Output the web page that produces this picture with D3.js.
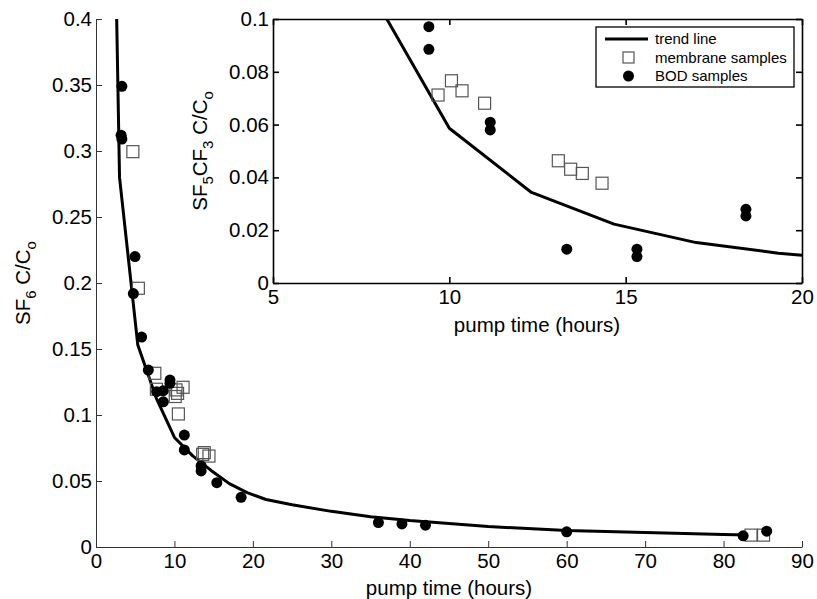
<!DOCTYPE html>
<html>
<head>
<meta charset="utf-8">
<script src="https://cdn.jsdelivr.net/npm/d3@7"></script>
<style>
body { margin: 0; background: #fff; }
svg { font-family: "Liberation Sans", Arial, Helvetica, sans-serif; }
</style>
</head>
<body>
<div id="chart"></div>
<script>
// main plot: SF6
var trendTime = [0.67, 3.0, 5.33, 7.67, 10, 12.33, 14.67, 17, 19.33, 21.67, 25, 30, 35, 40, 50, 60, 70, 80, 83];
var trendSF6 = [1.05, 0.28, 0.153, 0.113, 0.083, 0.069, 0.058, 0.048, 0.041, 0.036, 0.032, 0.027, 0.023, 0.020, 0.0155, 0.0125, 0.011, 0.0095, 0.009];

var memTime = [4.7, 5.4, 7.5, 7.7, 10.2, 10.1, 10.4, 11.1, 10.5, 13.8, 13.6, 14.4, 83.5, 85.1];
var memSF6 = [0.2995, 0.196, 0.1316, 0.1195, 0.119, 0.114, 0.1164, 0.121, 0.1008, 0.0715, 0.0702, 0.0689, 0.009, 0.009];

var bodTime = [3.3, 3.2, 3.3, 4.97, 4.76, 5.82, 6.67, 9.43, 9.43, 7.73, 8.58, 8.58, 11.26, 11.26, 13.4, 13.4, 15.4, 18.5, 36, 39, 42, 60, 82.5, 85.5];
var bodSF6 = [0.349, 0.312, 0.309, 0.22, 0.192, 0.159, 0.134, 0.1265, 0.124, 0.1177, 0.1184, 0.110, 0.0848, 0.0735, 0.0614, 0.0576, 0.0487, 0.0376, 0.0185, 0.0175, 0.0165, 0.0115, 0.0085, 0.012];

var mainXTicks = [0, 10, 20, 30, 40, 50, 60, 70, 80, 90];
var mainYTicks = [0, 0.05, 0.1, 0.15, 0.2, 0.25, 0.3, 0.35, 0.4];

// inset: SF5CF3
var trend5Time = [7.67, 10, 12.33, 14.67, 17, 19.33, 21.67];
var trendSF5 = [0.113, 0.0586, 0.0343, 0.0223, 0.0153, 0.0113, 0.0086];

var memTime5 = [9.68, 10.06, 10.36, 11.0, 13.09, 13.44, 13.77, 14.33];
var memSF5 = [0.0712, 0.0766, 0.0728, 0.0681, 0.0463, 0.0431, 0.0415, 0.0378];

var bodTime5 = [9.42, 9.42, 11.16, 11.16, 13.33, 15.32, 15.32, 18.41, 18.41];
var bodSF5 = [0.0971, 0.0885, 0.0609, 0.058, 0.0128, 0.0128, 0.0100, 0.0279, 0.0254];

var insetXTicks = [5, 10, 15, 20];
var insetYTicks = [0, 0.02, 0.04, 0.06, 0.08, 0.1];

var legendLabels = ["trend line", "membrane samples", "BOD samples"];

var width = 817, height = 599,
	fontSize = 20.5;

var svg = d3.select("#chart").append("svg")
	.attr("width", width)
	.attr("height", height);

function fmt(d) { return String(+d.toFixed(3)); }

function pairs(xs, ys) {
	return xs.map(function(x, i) { return [x, ys[i]]; });
}

// draw scatter + line into a group using given scales
function drawSeries(g, x, y, tT, tV, mT, mV, bT, bV, clipId) {
	var line = d3.line()
		.x(function(d) { return x(d[0]); })
		.y(function(d) { return y(d[1]); });

	g.append("path")
		.datum(pairs(tT, tV))
		.attr("clip-path", "url(#" + clipId + ")")
		.attr("fill", "none")
		.attr("stroke", "#000")
		.attr("stroke-width", 3)
		.attr("stroke-linejoin", "round")
		.attr("d", line);

	g.selectAll("rect.mem")
		.data(pairs(mT, mV))
		.enter().append("rect")
		.attr("class", "mem")
		.attr("x", function(d) { return x(d[0]) - 6; })
		.attr("y", function(d) { return y(d[1]) - 6; })
		.attr("width", 12)
		.attr("height", 12)
		.attr("fill", "none")
		.attr("stroke", "#555")
		.attr("stroke-width", 1.2);

	g.selectAll("circle.bod")
		.data(pairs(bT, bV))
		.enter().append("circle")
		.attr("class", "bod")
		.attr("cx", function(d) { return x(d[0]); })
		.attr("cy", function(d) { return y(d[1]); })
		.attr("r", 5.5)
		.attr("fill", "#000");
}

function styleAxis(g, color, w) {
	g.select(".domain").attr("stroke", color).attr("stroke-width", w);
	g.selectAll(".tick line").attr("stroke", color).attr("stroke-width", w);
	g.selectAll(".tick text").attr("fill", "#000").attr("font-size", fontSize)
		.attr("font-family", "Liberation Sans, Arial, sans-serif");
}

// subscripted label text
function subLabel(t, parts) {
	parts.forEach(function(p) {
		var ts = t.append("tspan").text(p[0]);
		if (p[1] == "sub") ts.attr("font-size", 15).attr("dy", 6);
		if (p[1] == "up") ts.attr("dy", -6);
	});
}

//Main axes
var xMain = d3.scaleLinear().domain([0, 90]).range([96, 802]);
var yMain = d3.scaleLinear().domain([0, 0.4]).range([547, 19]);

svg.append("clipPath").attr("id", "clipMain")
	.append("rect").attr("x", 96).attr("y", 19).attr("width", 706).attr("height", 528);

var gx = svg.append("g")
	.attr("transform", "translate(0,547)")
	.call(d3.axisBottom(xMain).tickValues(mainXTicks).tickSize(-6).tickPadding(6).tickSizeOuter(0).tickFormat(fmt));
styleAxis(gx, "#333", 1);

var gy = svg.append("g")
	.attr("transform", "translate(96,0)")
	.call(d3.axisLeft(yMain).tickValues(mainYTicks).tickSize(-6).tickPadding(4).tickSizeOuter(0).tickFormat(fmt));
styleAxis(gy, "#333", 1);

drawSeries(svg.append("g"), xMain, yMain, trendTime, trendSF6, memTime, memSF6, bodTime, bodSF6, "clipMain");

svg.append("text")
	.attr("x", 449).attr("y", 595)
	.attr("text-anchor", "middle")
	.attr("font-size", fontSize)
	.text("pump time (hours)");

var ylab = svg.append("text")
	.attr("transform", "translate(30,283) rotate(-90)")
	.attr("text-anchor", "middle")
	.attr("font-size", fontSize);
subLabel(ylab, [["SF"], ["6", "sub"], [" C/C", "up"], ["o", "sub"]]);

//Inset axes
var xIn = d3.scaleLinear().domain([5, 20]).range([273, 802]);
var yIn = d3.scaleLinear().domain([0, 0.1]).range([283, 19]);

svg.append("rect")
	.attr("x", 273).attr("y", 19).attr("width", 529).attr("height", 264)
	.attr("fill", "#fff");

svg.append("clipPath").attr("id", "clipInset")
	.append("rect").attr("x", 273).attr("y", 19).attr("width", 529).attr("height", 264);

drawSeries(svg.append("g"), xIn, yIn, trend5Time, trendSF5, memTime5, memSF5, bodTime5, bodSF5, "clipInset");

var ix = svg.append("g").attr("transform", "translate(0,283)")
	.call(d3.axisBottom(xIn).tickValues(insetXTicks).tickSize(-6).tickPadding(6).tickSizeOuter(0).tickFormat(fmt));
styleAxis(ix, "#000", 1.6);
var ixTop = svg.append("g").attr("transform", "translate(0,19)")
	.call(d3.axisTop(xIn).tickValues(insetXTicks).tickSize(-6).tickSizeOuter(0).tickFormat(""));
styleAxis(ixTop, "#000", 1.6);
var iy = svg.append("g").attr("transform", "translate(273,0)")
	.call(d3.axisLeft(yIn).tickValues(insetYTicks).tickSize(-6).tickPadding(4).tickSizeOuter(0).tickFormat(fmt));
styleAxis(iy, "#000", 1.6);
var iyRight = svg.append("g").attr("transform", "translate(802,0)")
	.call(d3.axisRight(yIn).tickValues(insetYTicks).tickSize(-6).tickSizeOuter(0).tickFormat(""));
styleAxis(iyRight, "#000", 1.6);

svg.append("text")
	.attr("x", 537).attr("y", 332)
	.attr("text-anchor", "middle")
	.attr("font-size", fontSize)
	.text("pump time (hours)");

var ylab2 = svg.append("text")
	.attr("transform", "translate(207,151) rotate(-90)")
	.attr("text-anchor", "middle")
	.attr("font-size", fontSize);
subLabel(ylab2, [["SF"], ["5", "sub"], ["CF", "up"], ["3", "sub"], [" C/C", "up"], ["o", "sub"]]);

//Legend
var leg = svg.append("g").attr("transform", "translate(596,27)");
leg.append("rect")
	.attr("width", 198).attr("height", 60)
	.attr("fill", "#fff").attr("stroke", "#000").attr("stroke-width", 1.3);

legendLabels.forEach(function(lab, i) {
	var yy = 12 + i * 18.5;
	if (i == 0) {
		leg.append("line").attr("x1", 9).attr("x2", 52).attr("y1", yy).attr("y2", yy)
			.attr("stroke", "#000").attr("stroke-width", 3);
	} else if (i == 1) {
		leg.append("rect").attr("x", 27).attr("y", yy - 5.5).attr("width", 11).attr("height", 11)
			.attr("fill", "none").attr("stroke", "#555").attr("stroke-width", 1.2);
	} else {
		leg.append("circle").attr("cx", 32.5).attr("cy", yy).attr("r", 5.5).attr("fill", "#000");
	}
	leg.append("text").attr("x", 59).attr("y", yy + 5)
		.attr("font-size", 15)
		.text(lab);
});
</script>
</body>
</html>
